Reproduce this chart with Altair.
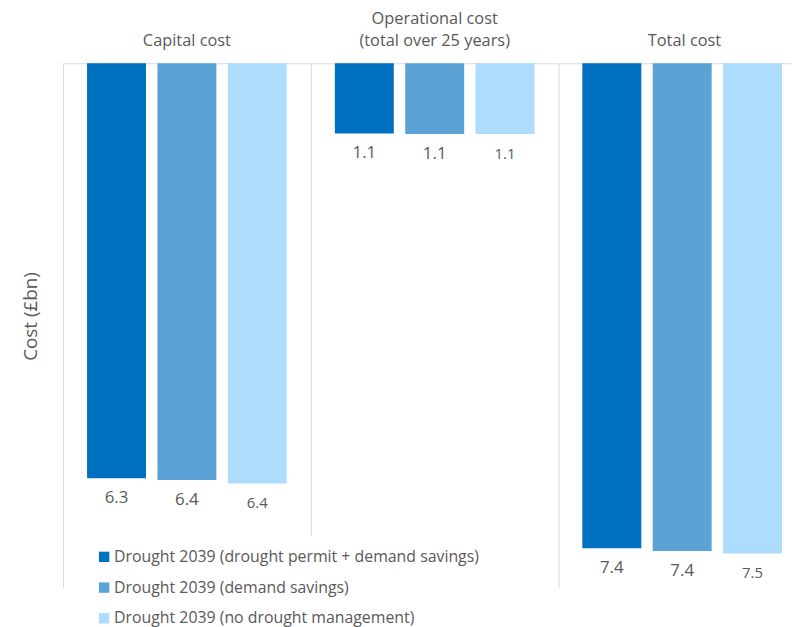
import altair as alt
import pandas as pd

series = [
    "Drought 2039 (drought permit + demand savings)",
    "Drought 2039 (demand savings)",
    "Drought 2039 (no drought management)",
]
colors = ["#0070c0", "#5ba3d6", "#addcfc"]
panel_titles = [
    ["Capital cost"],
    ["Operational cost", "(total over 25 years)"],
    ["Total cost"],
]
capital = [6.33, 6.36, 6.41]
operational = [1.07, 1.08, 1.08]
total = [7.40, 7.44, 7.48]

GRID = "#d9d9d9"
TEXT = "#595959"
FONT = "Open Sans"
H = 529

legend = alt.Legend(
    title=None, orient="none", legendX=33, legendY=490,
    symbolType="square", symbolSize=110, symbolStrokeWidth=0,
    labelFontSize=16, labelColor=TEXT, labelFont=FONT, rowPadding=15,
    labelLimit=600, labelOffset=2,
)


def panel(values, title, width, rule_h, pad_outer, align, title_dx, first):
    df = pd.DataFrame({"series": series, "value": values})
    xenc = alt.X(
        "series:N", sort=series,
        scale=alt.Scale(domain=series, paddingInner=0.162, paddingOuter=pad_outer, align=align),
        axis=alt.Axis(orient="top", labels=False, ticks=False, title=None,
                      domainColor=GRID, grid=False),
    )
    if first:
        yaxis = alt.Axis(title="Cost (£bn)", labels=False, ticks=False, domain=False,
                         grid=False, titleFontSize=19, titleColor=TEXT, titleFont=FONT,
                         titleFontWeight="normal", titlePadding=23, titleY=255)
    else:
        yaxis = None
    yenc = alt.Y("value:Q", scale=alt.Scale(domain=[0, 8], reverse=True, nice=False), axis=yaxis)
    base = alt.Chart(df)
    rule = alt.Chart(alt.Data(values=[{}])).mark_rule(color=GRID, strokeWidth=1).encode(
        x=alt.value(0), y=alt.value(0), y2=alt.value(rule_h)
    )
    bars = base.mark_bar().encode(
        x=xenc, y=yenc,
        color=alt.Color("series:N", scale=alt.Scale(domain=series, range=colors), legend=legend),
    )
    text = base.mark_text(dy=20, font=FONT, color=TEXT, baseline="middle").encode(
        x=xenc, y=yenc,
        text=alt.Text("value:Q", format=".1f"),
        size=alt.condition(alt.datum.series == series[2], alt.value(15), alt.value(17)),
    )
    return alt.layer(bars, rule, text).properties(
        width=width, height=H,
        title=alt.TitleParams(text=title, anchor="middle", fontSize=16.5, color=TEXT, font=FONT,
                              fontWeight="normal", offset=-3, baseline="bottom",
                              lineHeight=23, dx=title_dx),
    )


p1 = panel(capital, panel_titles[0], 249, H, 0.335, 0.5, 0, True)
p2 = panel(operational, panel_titles[1], 249, 477, 0.335, 0.5, 0, False)
p3 = panel(total, panel_titles[2], 235, H, 0.236, 0.70, 9, False)

chart = alt.hconcat(p1, p2, p3, spacing=0).resolve_scale(
    x="independent"
).properties(
    padding={"left": 14, "top": 0, "right": 0, "bottom": 0}
).configure_view(stroke=None)

chart.save("out.html", embed_options={"renderer": "svg", "actions": False})
